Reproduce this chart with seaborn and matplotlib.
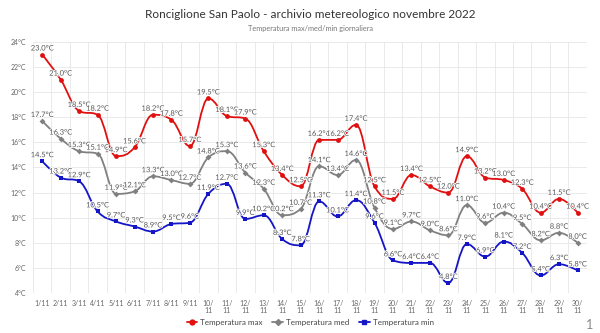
import numpy as np
import pandas as pd
import matplotlib
matplotlib.use("Agg")
import matplotlib.pyplot as plt
import seaborn as sns
from matplotlib.path import Path
from matplotlib.patches import PathPatch
from matplotlib.lines import Line2D
import matplotlib.patheffects as pe

days = [f"{d}/11" for d in range(1, 31)]
tmax = [23.0, 21.0, 18.5, 18.2, 14.9, 15.6, 18.2, 17.8, 15.7, 19.5, 18.1, 17.9, 15.3, 13.4, 12.5,
        16.2, 16.2, 17.4, 12.5, 11.5, 13.4, 12.5, 12.0, 14.9, 13.2, 13.0, 12.3, 10.4, 11.5, 10.4]
tmed = [17.7, 16.3, 15.3, 15.1, 11.9, 12.1, 13.3, 13.0, 12.7, 14.8, 15.3, 13.6, 12.3, 10.2, 10.7,
        14.1, 13.4, 14.6, 10.8, 9.1, 9.7, 9.0, 8.6, 11.0, 9.6, 10.4, 9.5, 8.2, 8.8, 8.0]
tmin = [14.5, 13.2, 12.9, 10.5, 9.7, 9.3, 8.9, 9.5, 9.6, 11.9, 12.7, 9.9, 10.2, 8.3, 7.8,
        11.3, 10.1, 11.4, 9.6, 6.6, 6.4, 6.4, 4.8, 7.9, 6.9, 8.1, 7.2, 5.4, 6.3, 5.8]
series_names = ["Temperatura max", "Temperatura med", "Temperatura min"]
colors = ["#e01010", "#808080", "#1515c8"]
markers = ["o", "D", "s"]
yticks = list(range(4, 25, 2))

sns.set_theme(style="white")
plt.rcParams["font.family"] = ["Lato", "DejaVu Sans"]

fig = plt.figure(figsize=(6, 3.33), dpi=100)
ax = fig.add_axes([0.055, 0.12, 0.923, 0.754])

df = pd.DataFrame({"day": days * 3, "x": list(range(30)) * 3,
                   "val": tmax + tmed + tmin,
                   "serie": [s for s in series_names for _ in range(30)]})


def spline_path(xs, ys, smoothing=1.5):
    denom = smoothing + 1
    n = len(xs)
    verts = [(xs[0], ys[0])]
    codes = [Path.MOVETO]
    ctrl = []
    for i in range(n):
        px, py = xs[i], ys[i]
        if 0 < i < n - 1:
            lx, ly = xs[i - 1], ys[i - 1]
            nx, ny = xs[i + 1], ys[i + 1]
            lcx = (smoothing * px + lx) / denom
            lcy = (smoothing * py + ly) / denom
            rcx = (smoothing * px + nx) / denom
            rcy = (smoothing * py + ny) / denom
            if rcx != lcx:
                corr = ((rcy - lcy) * (rcx - px)) / (rcx - lcx) + py - rcy
                lcy += corr
                rcy += corr
            if lcy > max(ly, py):
                lcy = max(ly, py); rcy = 2 * py - lcy
            elif lcy < min(ly, py):
                lcy = min(ly, py); rcy = 2 * py - lcy
            if rcy > max(py, ny):
                rcy = max(py, ny); lcy = 2 * py - rcy
            elif rcy < min(py, ny):
                rcy = min(py, ny); lcy = 2 * py - rcy
            ctrl.append(((lcx, lcy), (rcx, rcy)))
        else:
            ctrl.append(((px, py), (px, py)))
    for i in range(1, n):
        verts += [ctrl[i - 1][1], ctrl[i][0], (xs[i], ys[i])]
        codes += [Path.CURVE4] * 3
    return Path(verts, codes)


for name, col, mk in zip(series_names, colors, markers):
    sub = df[df.serie == name]
    path = spline_path(sub.x.values.astype(float), sub.val.values.astype(float))
    ax.add_patch(PathPatch(path, facecolor="none", edgecolor=col, lw=1.3, zorder=3))
    sns.scatterplot(data=sub, x="x", y="val", color=col, marker=mk, s=9 if mk != "o" else 12,
                    edgecolor=col, linewidth=0, ax=ax, zorder=4, legend=False)
    for xv, yv in zip(sub.x, sub.val):
        ax.annotate(f"{yv:.1f}°C", (xv, yv), xytext=(0, 2.2), textcoords="offset points",
                    ha="center", va="bottom", fontsize=5.4, color="#555555", zorder=5,
                    path_effects=[pe.withStroke(linewidth=1.2, foreground="white")])

ax.set_xlim(-0.5, 29.5)
ax.set_ylim(4, 24)
ax.set_yticks(yticks)
ax.set_yticklabels([f"{t}°C" for t in yticks], fontsize=5, color="#666666")
ax.set_xticks(range(30))
xl = [d if i < 9 else d.replace("/", "/\n") for i, d in enumerate(days)]
ax.set_xticklabels(xl, fontsize=5, color="#666666", linespacing=1.0)
ax.tick_params(axis="x", length=3, width=0.6, color="#cccccc", pad=2)
ax.tick_params(axis="y", length=3, width=0.6, color="#cccccc", pad=2)
ax.set_xlabel("")
ax.set_ylabel("")
for y in yticks:
    ax.axhline(y, color="#e6e6e6", lw=0.6, zorder=0)
for xg in np.arange(-0.5, 30, 1):
    ax.axvline(xg, color="#e6e6e6", lw=0.6, zorder=0)
for s in ax.spines.values():
    s.set_visible(False)

fig.text(0.517, 0.955, "Ronciglione San Paolo - archivio metereologico novembre 2022",
         ha="center", va="center", fontsize=8.5, color="#333333")
fig.text(0.517, 0.915, "Temperatura max/med/min giornaliera", ha="center", va="center",
         fontsize=5.3, color="#777777")

handles = [Line2D([0], [0], color=c, lw=1.3, marker=m, markersize=3 if m != "o" else 3.5)
           for c, m in zip(colors, markers)]
fig.legend(handles, series_names, loc="center", bbox_to_anchor=(0.517, 0.033), ncol=3,
           frameon=False, fontsize=5.8, handlelength=1.3, columnspacing=1.2, handletextpad=0.4,
           labelcolor="#444444")
fig.text(0.983, 0.025, "1", ha="center", va="center", fontsize=9, color="#888888")

fig.savefig("out.png", dpi=100)
